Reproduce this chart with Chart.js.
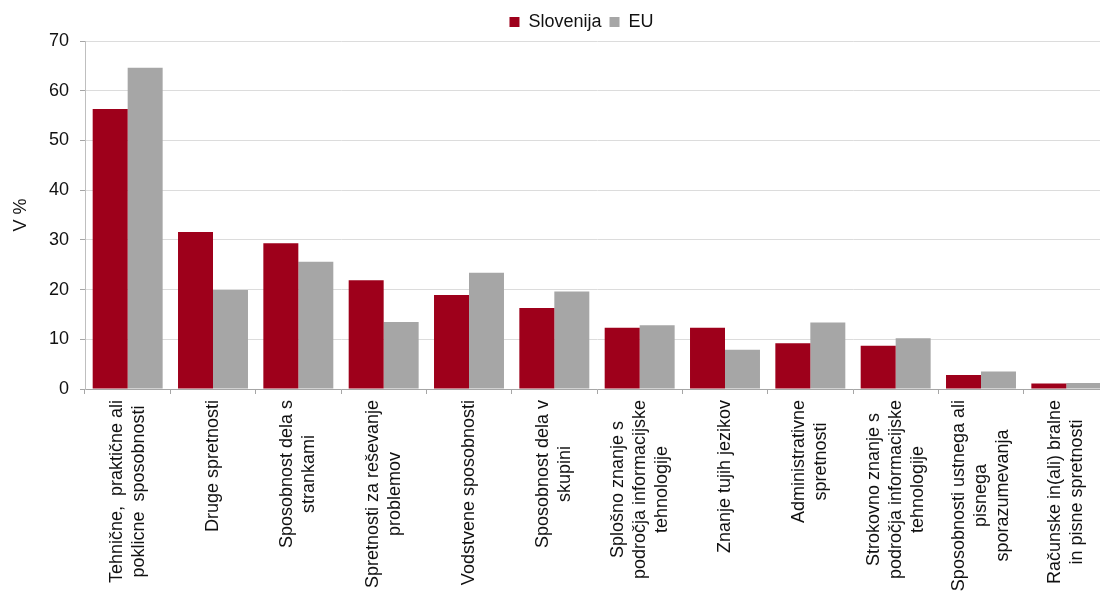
<!DOCTYPE html>
<html>
<head>
<meta charset="utf-8">
<script src="https://cdn.jsdelivr.net/npm/chart.js@4"></script>
<style>
  html, body { margin: 0; padding: 0; background: #fff; overflow: hidden; }
  #wrap { width: 1110px; height: 594px; }
</style>
</head>
<body>
<div id="wrap"><canvas id="chart"></canvas></div>
<script>
// categories (each entry = lines of the rotated label)
const categories = [
    ['Tehnične,  praktične ali', 'poklicne  sposobnosti'],
    ['Druge spretnosti'],
    ['Sposobnost dela s', 'strankami'],
    ['Spretnosti za reševanje', 'problemov'],
    ['Vodstvene sposobnosti'],
    ['Sposobnost dela v', 'skupini'],
    ['Splošno znanje s', 'področja informacijske', 'tehnologije'],
    ['Znanje tujih jezikov'],
    ['Administrativne', 'spretnosti'],
    ['Strokovno znanje s', 'področja informacijske', 'tehnologije'],
    ['Sposobnosti ustnega ali', 'pisnega', 'sporazumevanja'],
    ['Računske in(ali) bralne', 'in pisne spretnosti']
];
const slovenija = [56.3, 31.6, 29.3, 21.9, 18.9, 16.3, 12.3, 12.3, 9.2, 8.7, 2.8, 1.1];
const eu = [64.6, 19.9, 25.6, 13.5, 23.4, 19.6, 12.8, 7.9, 13.4, 10.2, 3.5, 1.2];
const yTicks = [0, 10, 20, 30, 40, 50, 60, 70];

const FONT = "'Liberation Sans', Arial, sans-serif";

// x labels: rotated, lines centred on each other
const xLabels = {
    id: 'xLabels',
    afterDraw(chart) {
        const ctx = chart.ctx;
        const x = chart.scales.x;
        const lh = 22;
        ctx.save();
        ctx.font = '18px ' + FONT;
        ctx.fillStyle = '#111';
        ctx.textAlign = 'center';
        ctx.textBaseline = 'middle';
        categories.forEach(function(lines, i) {
            let maxW = 0;
            lines.forEach(function(l) { maxW = Math.max(maxW, ctx.measureText(l).width); });
            const px = x.getPixelForValue(i);
            const top = x.bottom + 6;
            ctx.save();
            ctx.translate(px, top + maxW / 2);
            ctx.rotate(-Math.PI / 2);
            lines.forEach(function(l, j) {
                ctx.fillText(l, 0, (j - (lines.length - 1) / 2) * lh);
            });
            ctx.restore();
        });
        ctx.restore();
    }
};

// move legend to the right a bit (centred over the plot as in the original)
const legendShift = {
    id: 'legendShift',
    afterLayout(chart) {
        chart.legend.left += 27;
        chart.legend.right += 27;
    }
};

const ctx = document.getElementById('chart').getContext('2d');
const chart = new Chart(ctx, {
    type: 'bar',
    data: {
        labels: categories.map(function(c) { return c.join(' '); }),
        datasets: [{
            label: 'Slovenija',
            backgroundColor: '#9e001b',
            data: slovenija,
        },
        {
            label: 'EU',
            backgroundColor: '#a6a6a6',
            data: eu,
        }]
    },
    options: {
        responsive: true,
        maintainAspectRatio: false,
        animation: false,
        layout: { padding: { top: 5, right: 1, bottom: 200, left: 0 } },
        datasets: { bar: { categoryPercentage: 0.82, barPercentage: 1 } },
        plugins: {
            tooltip: { enabled: false },
            legend: {
                position: 'top',
                labels: {
                    boxWidth: 10,
                    boxHeight: 10,
                    padding: 8,
                    color: '#111',
                    font: { family: FONT, size: 18 }
                }
            }
        },
        scales: {
            x: {
                grid: { display: true, drawOnChartArea: false, offset: true, tickLength: 5, color: '#a6a6a6' },
                border: { color: '#a6a6a6' },
                ticks: { display: false }
            },
            y: {
                min: 0,
                max: 70,
                afterFit: function(s) { s.width = 85; },
                afterBuildTicks: function(s) { s.ticks = yTicks.map(function(v) { return { value: v }; }); },
                grid: { color: '#dcdcdc', tickColor: '#a6a6a6', tickLength: 5 },
                border: { color: '#bfbfbf' },
                ticks: { padding: 11, color: '#111', font: { family: FONT, size: 18 } },
                title: {
                    display: true,
                    text: 'V %',
                    color: '#111',
                    padding: { top: 10, bottom: 0 },
                    font: { family: FONT, size: 18 }
                }
            }
        }
    },
    plugins: [xLabels, legendShift]
});
</script>
</body>
</html>
